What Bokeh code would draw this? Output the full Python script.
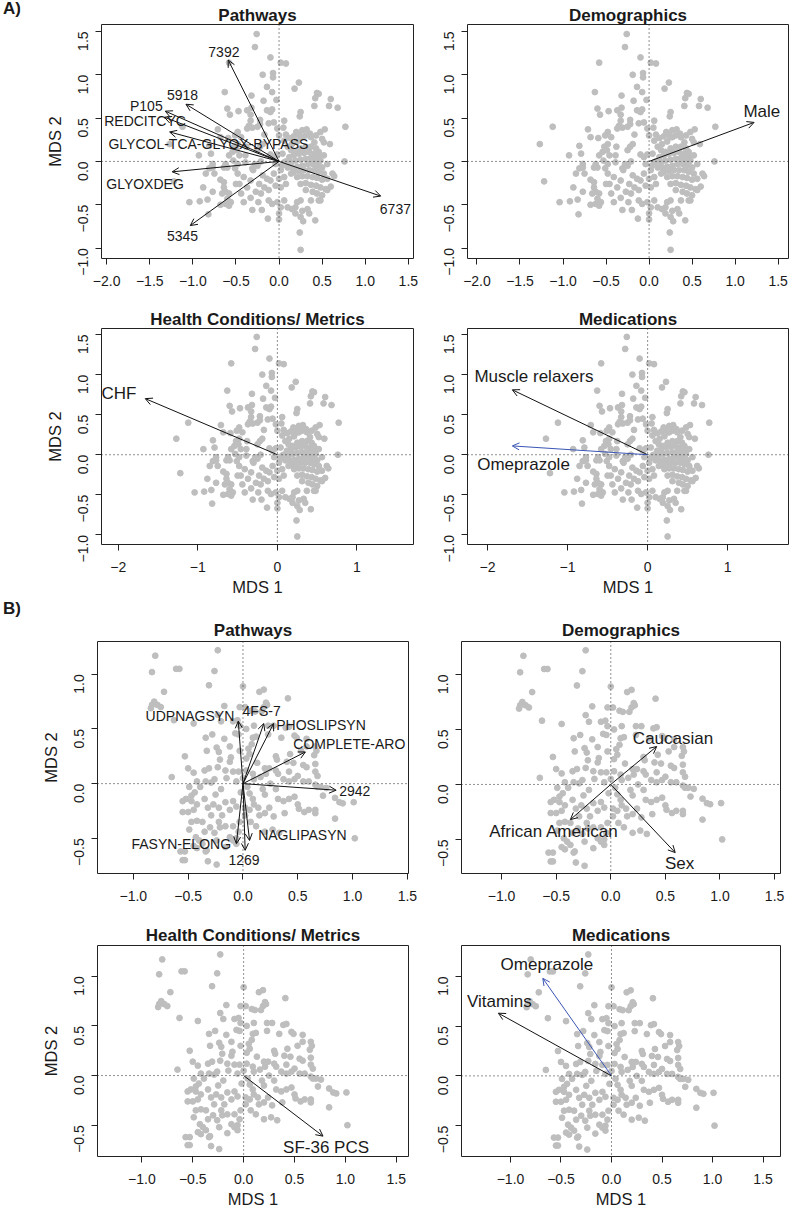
import math
from bokeh.plotting import figure
from bokeh.layouts import column, row
from bokeh.models import (Range1d, FixedTicker, CustomJSTickFormatter, Span, Arrow,
                          OpenHead, ColumnDataSource, Div)
from bokeh.core.properties import value
from bokeh.embed import file_html
from bokeh.resources import INLINE

FONT = "Liberation Sans"
TXT = "#1a1a1a"
PT = "#BEBEBE"

# ---------------- data: MDS coordinates (set A) ----------------
A_points = [
    (-0.26, 1.47), (-0.28, 1.32), (-0.58, 1.14), (-0.10, 1.20), (0.02, 1.14), (0.08, 1.13),
    (-0.19, 1.00), (-0.07, 1.02), (-0.07, 0.97), (0.23, 0.91), (0.18, 0.84), (-0.14, 0.86), (-0.08, 0.80),
    (-0.63, 0.80), (-0.32, 0.76), (-0.18, 0.70), (-0.03, 0.71),
    (0.44, 0.79), (0.46, 0.78), (0.42, 0.73), (0.60, 0.72), (0.58, 0.64), (0.68, 0.62), (0.41, 0.64),
    (0.25, 0.57), (0.24, 0.52),
    (-0.60, 0.61), (-0.57, 0.54), (-0.47, 0.58), (-0.37, 0.59), (-0.32, 0.62), (-0.33, 0.54),
    (-0.22, 0.48), (-0.14, 0.59), (-0.10, 0.57), (-0.08, 0.60), (0.06, 0.47),
    (-0.33, 0.47), (-0.31, 0.39), (-0.25, 0.40), (-0.22, 0.43), (-0.35, 0.41), (-0.37, 0.38),
    (-0.06, 0.45), (-0.12, 0.44), (-0.02, 0.38), (0.05, 0.39),
    (0.77, 0.40), (0.53, 0.37), (0.48, 0.34), (0.43, 0.30),
    (-1.12, 0.40), (-1.27, 0.20),
    (-0.71, 0.37), (-0.68, 0.28), (-0.59, 0.27),
    (-0.48, 0.34), (-0.44, 0.28), (-0.51, 0.30), (-0.48, 0.20), (-0.52, 0.17), (-0.49, 0.13), (-0.54, 0.11),
    (-0.81, 0.18), (-0.93, 0.07), (-0.79, 0.09),
    (-0.17, 0.31), (-0.22, 0.17), (-0.19, 0.20), (-0.25, 0.13),
    (0.00, 0.30), (0.08, 0.31), (0.06, 0.24),
    (-0.39, 0.07), (-0.46, 0.07), (-0.38, 0.17), (-0.58, 0.07),
    (-0.28, -0.03), (-0.21, 0.00),
    (-0.10, 0.08), (-0.06, 0.05), (-0.02, 0.08), (0.04, 0.09),
    (0.10, 0.17), (0.15, 0.20), (0.21, 0.23), (0.25, 0.28), (0.31, 0.30), (0.37, 0.28), (0.23, 0.31), (0.27, 0.28),
    (0.20, 0.34), (0.27, 0.36), (0.32, 0.37), (0.36, 0.32),
    (0.52, 0.22), (0.59, 0.20), (0.50, 0.26),
    (0.76, 0.00), (0.46, 0.05),
    (0.14, 0.13), (0.19, 0.11), (0.25, 0.15), (0.31, 0.17), (0.37, 0.17), (0.43, 0.15), (0.46, 0.11), (0.41, 0.22),
    (0.12, 0.05), (0.17, 0.07), (0.23, 0.09), (0.29, 0.10), (0.35, 0.11), (0.41, 0.09), (0.44, 0.07), (0.48, 0.01), (0.52, 0.07),
    (0.14, -0.01), (0.19, 0.01), (0.25, 0.02), (0.31, 0.03), (0.37, 0.04), (0.43, 0.02), (0.46, -0.01), (0.50, -0.07), (0.56, -0.03),
    (0.15, -0.07), (0.21, -0.06), (0.27, -0.05), (0.33, -0.03), (0.39, -0.03), (0.44, -0.05),
    (0.17, -0.12), (0.23, -0.11), (0.29, -0.10), (0.35, -0.10), (0.41, -0.10), (0.46, -0.12), (0.52, -0.14),
    (0.21, -0.18), (0.27, -0.17), (0.33, -0.17), (0.39, -0.18), (0.44, -0.19), (0.50, -0.21), (0.56, -0.20),
    (0.25, -0.26), (0.31, -0.25), (0.37, -0.27), (0.43, -0.28), (0.48, -0.30), (0.54, -0.32), (0.60, -0.29),
    (0.62, -0.14), (0.64, -0.17),
    (0.31, -0.33), (0.39, -0.35), (0.44, -0.37), (0.50, -0.39), (0.46, -0.45), (0.56, -0.33), (0.48, -0.45),
    (0.06, -0.01), (0.10, -0.07), (0.14, -0.14), (0.06, -0.18), (0.02, -0.10), (-0.04, -0.03),
    (-0.06, -0.14), (0.00, -0.20), (0.08, -0.26), (0.02, -0.30), (-0.04, -0.28), (-0.10, -0.22),
    (-0.19, -0.16), (-0.14, -0.20), (-0.23, -0.26), (-0.17, -0.30), (-0.12, -0.33), (-0.21, -0.37),
    (-0.12, -0.45), (-0.08, -0.49), (-0.02, -0.47), (0.06, -0.45), (0.10, -0.53), (0.02, -0.53), (0.00, -0.60), (0.00, -0.67),
    (-0.31, -0.56), (-0.20, -0.56), (-0.13, -0.66),
    (0.15, -0.55), (0.19, -0.53), (0.25, -0.45), (0.27, -0.57), (0.33, -0.55), (0.37, -0.45),
    (0.25, -0.64), (0.28, -0.69), (0.35, -0.60), (0.42, -0.68), (0.24, -0.82), (0.25, -1.02), (0.19, -0.60), (0.21, -0.47),
    (-0.48, -0.14), (-0.41, -0.18), (-0.46, -0.26), (-0.37, -0.30), (-0.44, -0.37), (-0.41, -0.47), (-0.33, -0.22), (-0.31, -0.08), (-0.39, -0.01),
    (-0.53, 0.01), (-0.48, -0.03), (-0.62, -0.03), (-0.64, -0.07), (-0.60, -0.07), (-0.51, -0.08),
    (-0.85, -0.14), (-0.81, -0.08), (-0.77, -0.03), (-0.75, -0.14), (-0.77, -0.07),
    (-1.22, -0.23), (-1.04, -0.47), (-0.92, -0.46), (-0.83, -0.44), (-0.82, -0.61), (-0.88, -0.30), (-0.77, -0.35),
    (-0.68, -0.21), (-0.64, -0.24), (-0.64, -0.30), (-0.62, -0.35), (-0.58, -0.37), (-0.66, -0.37), (-0.60, -0.43),
    (-0.56, -0.47), (-0.62, -0.49), (-0.68, -0.50), (-0.58, -0.51), (-0.50, -0.26),
    (0.08, 0.00), (0.03, -0.05), (-0.30, -0.10), (-0.25, -0.05), (-0.33, -0.42), (-0.27, -0.35), (-0.24, -0.47),
    (0.12, 0.27), (0.17, 0.29),
]

# ---------------- data: MDS coordinates (set B) ----------------
B_points = [
    (-0.23, 1.22), (-0.80, 1.17), (-0.83, 1.02), (-0.61, 1.05), (-0.58, 1.05), (-0.26, 1.03), (-0.31, 0.90),
    (-0.72, 0.84), (0.00, 0.89), (0.15, 0.84), (0.19, 0.86),
    (-0.84, 0.69), (-0.81, 0.75), (-0.78, 0.72), (-0.75, 0.70), (-0.83, 0.72),
    (-0.63, 0.58), (-0.45, 0.55), (-0.17, 0.71), (-0.03, 0.70), (0.02, 0.70), (0.08, 0.67), (0.11, 0.66),
    (0.21, 0.74), (0.22, 0.72), (0.19, 0.70), (0.17, 0.66), (0.41, 0.78),
    (-0.23, 0.63), (-0.20, 0.57), (-0.09, 0.57), (-0.05, 0.58), (-0.03, 0.53), (0.03, 0.50), (0.10, 0.53),
    (0.23, 0.53), (0.28, 0.53), (0.39, 0.51), (0.42, 0.52),
    (-0.28, 0.45), (-0.34, 0.42), (-0.17, 0.41), (-0.07, 0.46), (-0.04, 0.45), (0.09, 0.42), (0.12, 0.43),
    (0.23, 0.45), (0.35, 0.42), (0.47, 0.44), (0.49, 0.42), (0.58, 0.41),
    (-0.33, 0.30), (-0.24, 0.33), (-0.22, 0.29), (-0.12, 0.34), (-0.03, 0.30), (0.05, 0.32), (0.08, 0.36),
    (-0.53, 0.25),
    (0.30, 0.25), (0.31, 0.22), (0.43, 0.27), (0.53, 0.30), (0.58, 0.34), (0.66, 0.34), (0.67, 0.30), (0.65, 0.26),
    (-0.50, 0.14), (-0.45, 0.10), (-0.35, 0.12), (-0.31, 0.14), (-0.23, 0.15), (-0.21, 0.22), (-0.12, 0.20), (-0.11, 0.24),
    (0.03, 0.23), (0.06, 0.27), (0.13, 0.19), (0.20, 0.14), (0.24, 0.14), (0.30, 0.12),
    (0.40, 0.20), (0.42, 0.11), (0.46, 0.19), (0.55, 0.17), (0.58, 0.15), (0.66, 0.18), (0.66, 0.11), (0.68, 0.07),
    (-0.65, 0.06),
    (-0.16, 0.12), (-0.09, 0.11), (-0.04, 0.11),
    (0.09, 0.09), (0.10, 0.04), (0.16, 0.06), (0.21, 0.09),
    (0.32, 0.09), (0.37, 0.04), (0.42, 0.02), (0.47, 0.04), (0.50, 0.07), (0.55, 0.02), (0.60, 0.02),
    (0.66, -0.01), (0.71, -0.03), (0.76, -0.04), (0.68, -0.03),
    (0.73, -0.11), (0.84, -0.13), (0.88, -0.17), (0.91, -0.18), (1.01, -0.17), (1.02, -0.50), (0.84, -0.32),
    (0.50, -0.19), (0.51, -0.23), (0.60, -0.24), (0.56, -0.26), (0.66, -0.24), (0.66, -0.27),
    (0.47, -0.12), (0.42, -0.14), (0.37, -0.16), (0.32, -0.14),
    (-0.42, 0.02), (-0.39, -0.03), (-0.34, 0.02), (-0.29, 0.01), (-0.26, 0.04),
    (-0.49, -0.03), (-0.47, -0.11), (-0.44, -0.08), (-0.52, -0.14), (-0.47, -0.16), (-0.42, -0.19), (-0.35, -0.14),
    (-0.55, -0.16), (-0.55, -0.26), (-0.50, -0.26), (-0.45, -0.24), (-0.42, -0.34), (-0.37, -0.35), (-0.47, -0.35), (-0.49, -0.42),
    (-0.32, -0.22), (-0.27, -0.19), (-0.22, -0.22), (-0.19, -0.29), (-0.16, -0.17), (-0.12, -0.24), (-0.09, -0.16), (-0.06, -0.21),
    (-0.29, -0.29), (-0.22, -0.35), (-0.30, -0.40), (-0.26, -0.45), (-0.21, -0.40), (-0.16, -0.39), (-0.09, -0.39),
    (-0.04, -0.44), (-0.06, -0.50), (-0.12, -0.49), (-0.09, -0.52),
    (0.04, -0.03), (0.06, -0.09), (0.09, -0.14), (0.10, -0.19), (0.06, -0.24), (0.14, -0.22), (0.15, -0.29), (0.20, -0.27), (0.24, -0.22),
    (0.02, -0.29), (0.07, -0.35), (0.12, -0.39), (0.20, -0.44), (0.27, -0.42), (0.33, -0.45),
    (-0.03, -0.35), (0.02, -0.22),
    (-0.43, -0.49), (-0.40, -0.52), (-0.35, -0.44), (-0.37, -0.55), (-0.34, -0.62),
    (-0.57, -0.62), (-0.53, -0.62), (-0.55, -0.70), (-0.53, -0.70),
    (-0.45, -0.57), (-0.42, -0.59),
    (-0.33, -0.61), (-0.32, -0.71), (-0.24, -0.74),
    (-0.24, -0.52), (-0.16, -0.58), (-0.06, -0.55),
    (0.00, 0.05), (-0.02, -0.08), (0.03, 0.12), (-0.06, 0.02), (-0.15, 0.05), (-0.20, -0.05), (-0.25, -0.10),
    (0.25, 0.00), (0.18, -0.05), (0.30, -0.05), (0.20, -0.10), (0.28, -0.30), (0.38, -0.27),
]

# ---------------- data: loading arrows ----------------
A_path_names = ["7392", "5918", "P105", "REDCITCYC", "GLYCOL-TCA-GLYOX-BYPASS", "GLYOXDEG", "5345", "6737"]
A_path_x = [-0.59, -1.08, -1.32, -1.33, -1.27, -1.24, -1.03, 1.18]
A_path_y = [1.17, 0.66, 0.58, 0.51, 0.34, -0.12, -0.74, -0.40]
A_path_lx = [-0.64, -1.12, -1.54, -1.555, -0.82, -1.555, -1.12, 1.35]
A_path_ly = [1.26, 0.77, 0.635, 0.466, 0.204, -0.258, -0.866, -0.547]

A_demo_names = ["Male"]
A_demo_x, A_demo_y = [1.22], [0.45]
A_demo_lx, A_demo_ly = [1.31], [0.58]

A_health_names = ["CHF"]
A_health_x, A_health_y = [-1.66], [0.70]
A_health_lx, A_health_ly = [-1.99], [0.77]

A_med_names = ["Muscle relaxers", "Omeprazole"]
A_med_x, A_med_y = [-1.69, -1.69], [0.81, 0.11]
A_med_lx, A_med_ly = [-1.42, -1.55], [0.97, -0.12]
A_med_sig = [False, True]

B_path_names = ["UDPNAGSYN", "4FS-7", "PHOSLIPSYN", "COMPLETE-ARO", "2942", "NAGLIPASYN", "FASYN-ELONG", "1269"]
B_path_x = [-0.043, 0.19, 0.28, 0.57, 0.85, 0.06, -0.06, 0.02]
B_path_y = [0.572, 0.55, 0.55, 0.29, -0.06, -0.52, -0.55, -0.61]
B_path_lx = [-0.484, 0.17, 0.712, 0.97, 1.02, 0.542, -0.563, 0.01]
B_path_ly = [0.618, 0.66, 0.533, 0.36, -0.07, -0.472, -0.554, -0.694]

B_demo_names = ["Caucasian", "African American", "Sex"]
B_demo_x, B_demo_y = [0.42, -0.37, 0.59], [0.345, -0.32, -0.62]
B_demo_lx, B_demo_ly = [0.57, -0.52, 0.63], [0.42, -0.43, -0.72]

B_health_names = ["SF-36 PCS"]
B_health_x, B_health_y = [0.78], [-0.61]
B_health_lx, B_health_ly = [0.81], [-0.72]

B_med_names = ["Omeprazole", "Vitamins"]
B_med_x, B_med_y = [-0.68, -1.12], [0.98, 0.63]
B_med_lx, B_med_ly = [-0.64, -1.11], [1.12, 0.75]
B_med_sig = [True, False]

# tick positions
A_xticks_top = [-2.0, -1.5, -1.0, -0.5, 0.0, 0.5, 1.0, 1.5]
A_xticks_bot = [-2, -1, 0, 1]
A_yticks = [-1.0, -0.5, 0.0, 0.5, 1.0, 1.5]
B_xticks = [-1.0, -0.5, 0.0, 0.5, 1.0, 1.5]
B_yticks = [-0.5, 0.0, 0.5, 1.0]

ARROW_BLACK = "#111111"
ARROW_BLUE = "#3a55b4"


def fmt(d):
    return CustomJSTickFormatter(args=dict(d=d),
                                 code="return tick.toFixed(d).replace('-', '\u2212');")


def panel(pts, xr, yr, xt, xd, yt, yd, fw, fh, bl, br, bt, bb, title, tstand,
          xlabel=False, ylabel=False):
    p = figure(frame_width=fw, frame_height=fh, min_border_left=bl, min_border_right=br,
               min_border_top=bt, min_border_bottom=bb, x_range=Range1d(*xr),
               y_range=Range1d(*yr), output_backend="svg", toolbar_location=None)
    p.title.text = title
    p.title.align = "center"
    p.title.text_font = FONT
    p.title.text_font_size = "17px"
    p.title.text_font_style = "bold"
    p.title.text_color = TXT
    p.title.standoff = tstand
    p.grid.visible = False
    p.outline_line_color = "#222222"
    p.outline_line_width = 1
    p.outline_line_alpha = 1
    p.background_fill_color = "white"
    p.border_fill_color = "white"
    for ax, ticks, d in ((p.xaxis[0], xt, xd), (p.yaxis[0], yt, yd)):
        ax.ticker = FixedTicker(ticks=ticks)
        ax.formatter = fmt(d)
        ax.axis_line_color = None
        ax.major_tick_line_color = "#222222"
        ax.major_tick_in = 0
        ax.major_tick_out = 6
        ax.minor_tick_line_color = None
        ax.major_label_text_font = FONT
        ax.major_label_text_font_size = "14px"
        ax.major_label_text_color = TXT
        ax.axis_label_text_font = FONT
        ax.axis_label_text_font_size = "16.5px"
        ax.axis_label_text_font_style = "normal"
        ax.axis_label_text_color = TXT
    p.xaxis.major_label_standoff = 11
    p.yaxis.major_label_standoff = 12
    p.yaxis.major_label_orientation = math.pi / 2
    if xlabel:
        p.xaxis.axis_label = "MDS 1"
        p.xaxis.axis_label_standoff = 3
    if ylabel:
        p.yaxis.axis_label = "MDS 2"
        p.yaxis.axis_label_standoff = 7
    p.scatter([q[0] for q in pts], [q[1] for q in pts], size=5.8, color=PT, line_color=PT)
    p.add_layout(Span(location=0, dimension="height", line_color="#222222",
                      line_dash="1 3", line_width=1))
    p.add_layout(Span(location=0, dimension="width", line_color="#222222",
                      line_dash="1 3", line_width=1))
    return p


def arrows(p, names, x, y, lx, ly, size, sig=None):
    cols = [ARROW_BLUE if (sig and sig[i]) else ARROW_BLACK for i in range(len(names))]
    src = ColumnDataSource(dict(x0=[0] * len(x), y0=[0] * len(y), x1=x, y1=y, c=cols))
    p.add_layout(Arrow(end=OpenHead(size=7, line_width=1, line_color="c"), source=src,
                       x_start="x0", y_start="y0", x_end="x1", y_end="y1",
                       line_color="c", line_width=1))
    p.text(x=lx, y=ly, text=names, text_align="center", text_baseline="middle",
           text_font=value(FONT), text_font_size=size, text_color=TXT)


def tag(txt):
    return Div(text=f'<div style="padding-left:3px;padding-top:0px">{txt}</div>',
               width=20, margin=0,
               styles={"font-family": FONT, "font-size": "17px", "font-weight": "bold",
                       "color": TXT, "line-height": "17px"})


# ---------------- panels (pixel geometry of the 790 x 1211 page) ----------------
a1 = panel(A_points, (-2.06, 1.56), (-1.12, 1.58), A_xticks_top, 1, A_yticks, 1,
           312, 234, 81, 15, 24, 42, "Pathways", 0, ylabel=True)
arrows(a1, A_path_names, A_path_x, A_path_y, A_path_lx, A_path_ly, "14px")

a2 = panel(A_points, (-2.11, 1.62), (-1.12, 1.58), A_xticks_top, 1, A_yticks, 1,
           321, 234, 39, 2, 24, 42, "Demographics", 0)
arrows(a2, A_demo_names, A_demo_x, A_demo_y, A_demo_lx, A_demo_ly, "17px")

a3 = panel(A_points, (-2.21, 1.71), (-1.12, 1.575), A_xticks_bot, 0, A_yticks, 1,
           312, 216, 101, 15, 28, 56, "Health Conditions/ Metrics", 0, xlabel=True, ylabel=True)
arrows(a3, A_health_names, A_health_x, A_health_y, A_health_lx, A_health_ly, "17px")

a4 = panel(A_points, (-2.25, 1.76), (-1.12, 1.575), A_xticks_bot, 0, A_yticks, 1,
           321, 216, 39, 2, 28, 56, "Medications", 0, xlabel=True)
arrows(a4, A_med_names, A_med_x, A_med_y, A_med_lx, A_med_ly, "17px", A_med_sig)

b1 = panel(B_points, (-1.327, 1.51), (-0.822, 1.30), B_xticks, 1, B_yticks, 1,
           311, 232, 77, 20, 41, 34, "Pathways", 3, ylabel=True)
arrows(b1, B_path_names, B_path_x, B_path_y, B_path_lx, B_path_ly, "14px")

b2 = panel(B_points, (-1.367, 1.554), (-0.81, 1.30), B_xticks, 1, B_yticks, 1,
           319, 232, 33, 10, 41, 34, "Demographics", 3)
arrows(b2, B_demo_names, B_demo_x, B_demo_y, B_demo_lx, B_demo_ly, "17px")

b3 = panel(B_points, (-1.436, 1.62), (-0.815, 1.31), B_xticks, 1, B_yticks, 1,
           311, 211, 97, 20, 38, 53, "Health Conditions/ Metrics", 2, xlabel=True, ylabel=True)
arrows(b3, B_health_names, B_health_x, B_health_y, B_health_lx, B_health_ly, "17px")

b4 = panel(B_points, (-1.485, 1.673), (-0.81, 1.31), B_xticks, 1, B_yticks, 1,
           319, 211, 33, 10, 38, 53, "Medications", 2, xlabel=True)
arrows(b4, B_med_names, B_med_x, B_med_y, B_med_lx, B_med_ly, "17px", B_med_sig)

layout = column(row(tag("A)"), a1, a2), row(a3, a4),
                row(tag("B)"), b1, b2), row(b3, b4))

with open("out.html", "w") as f:
    f.write(file_html(layout, INLINE, title="MDS biplots"))
